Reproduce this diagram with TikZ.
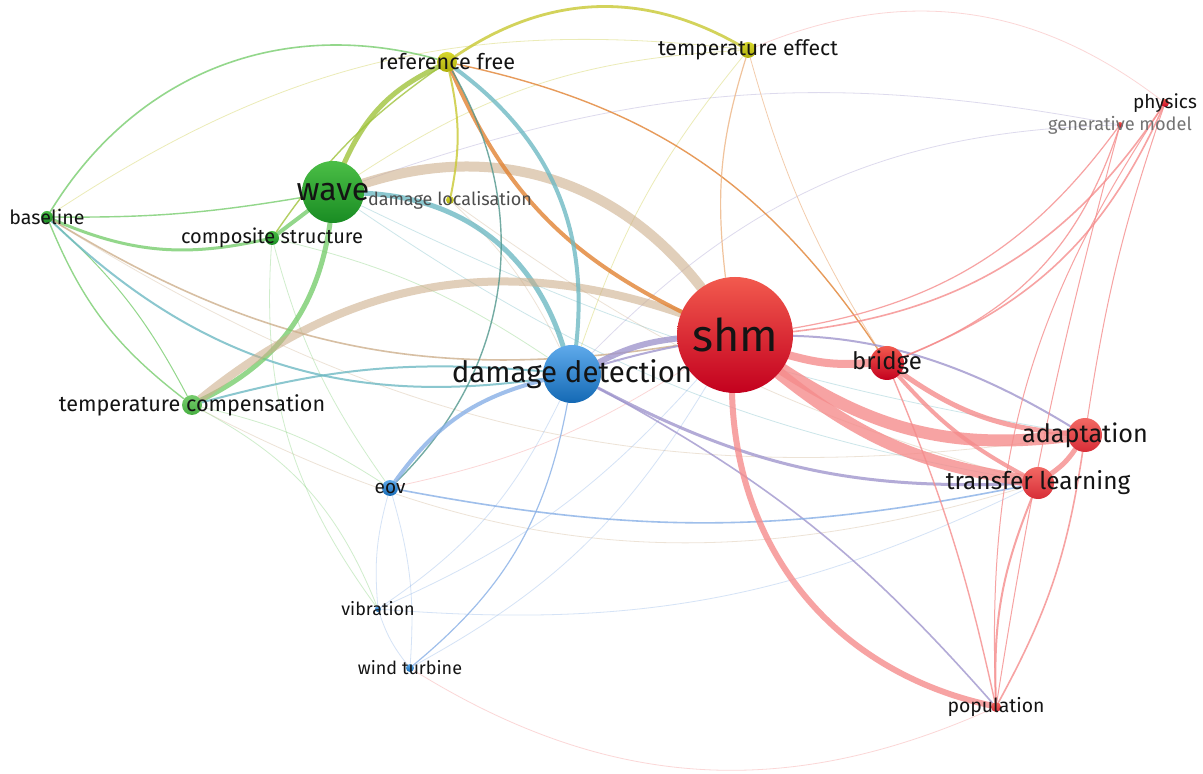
\documentclass[tikz,border=0pt]{standalone}
\usepackage{fontspec}
\setmainfont{Fira Sans}
\usetikzlibrary{backgrounds}

% keyword colours (top and bottom of each ball)
\definecolor{redtop}{RGB}{242,90,78}
\definecolor{redbot}{RGB}{195,0,30}
\definecolor{pinktop}{RGB}{242,105,100}
\definecolor{pinkbot}{RGB}{215,45,55}
\definecolor{bluetop}{RGB}{95,170,235}
\definecolor{bluebot}{RGB}{20,105,180}
\definecolor{greentop}{RGB}{75,190,70}
\definecolor{greenbot}{RGB}{25,140,35}
\definecolor{lgreentop}{RGB}{120,205,110}
\definecolor{lgreenbot}{RGB}{70,175,65}
\definecolor{yellowtop}{RGB}{215,215,45}
\definecolor{yellowbot}{RGB}{175,175,10}
% link colours
\definecolor{lnred}{RGB}{245,140,140}
\definecolor{lngreen}{RGB}{120,205,110}
\definecolor{lnteal}{RGB}{110,185,195}
\definecolor{lnblue}{RGB}{135,175,230}
\definecolor{lnpurple}{RGB}{160,150,205}
\definecolor{lntan}{RGB}{205,175,140}
\definecolor{lnorange}{RGB}{225,130,50}
\definecolor{lnyellow}{RGB}{200,200,50}
\definecolor{lnolive}{RGB}{160,195,60}
\definecolor{lndteal}{RGB}{80,150,140}
\definecolor{txtdark}{RGB}{20,20,20}

\newcommand{\kwfont}[1]{\fontsize{#1pt}{#1pt}\selectfont}

\begin{document}
\begin{tikzpicture}[x=0.5pt,y=0.5pt,
    kw/.style n args={3}{circle, inner sep=0pt, minimum size=#1,
        top color=#2, bottom color=#3, draw=none},
    lbl/.style={text=txtdark, inner sep=0pt, font=\kwfont{#1}},
    lnk/.style={draw=#1, line cap=round, opacity=.8},
    faint/.style={draw=#1, line width=.4pt, opacity=.35}]

    \useasboundingbox (0,0) rectangle (1203,-774);

    % Draw the keywords
    \node[kw={58pt}{redtop}{redbot}, label={[lbl=22.5]center:shm}] (shm) at (735,-335) {};
    \node[kw={29pt}{bluetop}{bluebot}, label={[lbl=14.7]center:damage detection}] (dmgdet) at (572,-374) {};
    \node[kw={31pt}{greentop}{greenbot}, label={[lbl=16]center:wave}] (wave) at (333,-192) {};
    \node[kw={10pt}{yellowtop}{yellowbot}, label={[lbl=10.8]center:reference free}] (reffree) at (447,-62) {};
    \node[kw={8pt}{yellowtop}{yellowbot}, label={[lbl=10.6]center:temperature effect}] (teffect) at (748,-50) {};
    \node[kw={4pt}{redtop}{redbot}, label={[lbl=9.5]center:physics}] (physics) at (1165,-103) {};
    \node[kw={3pt}{redtop}{redbot}, label={[lbl=9.1, text=black!55]center:generative model}] (genmodel) at (1120,-125) {};
    \node[kw={6pt}{greentop}{greenbot}, label={[lbl=9.8]center:baseline}] (baseline) at (47,-217) {};
    \node[kw={7pt}{greentop}{greenbot}, label={[lbl=10]center:composite structure}] (compstruct) at (272,-238) {};
    \node[kw={4pt}{yellowtop}{yellowbot}, label={[lbl=9, text=black!70]center:damage localisation}] (dmgloc) at (450,-200) {};
    \node[kw={10pt}{lgreentop}{lgreenbot}, label={[lbl=10.8]center:temperature compensation}] (tcomp) at (192,-405) {};
    \node[kw={8pt}{bluetop}{bluebot}, label={[lbl=9.5]center:eov}] (eov) at (390,-488) {};
    \node[kw={3pt}{bluetop}{bluebot}, label={[lbl=9]center:vibration}] (vibration) at (378,-609) {};
    \node[kw={4pt}{bluetop}{bluebot}, label={[lbl=9]center:wind turbine}] (windturb) at (410,-668) {};
    \node[kw={17pt}{redtop}{redbot}, label={[lbl=12]center:bridge}] (bridge) at (887,-363) {};
    \node[kw={17pt}{pinktop}{pinkbot}, label={[lbl=12.6]center:adaptation}] (adapt) at (1085,-435) {};
    \node[kw={16pt}{pinktop}{pinkbot}, label={[lbl=12.2]center:transfer learning}] (translearn) at (1038,-483) {};
    \node[kw={5pt}{pinktop}{pinkbot}, label={[lbl=9.7]center:population}] (population) at (996,-707) {};

    \begin{scope}[on background layer]
        \fill[white] (0,0) rectangle (1203,-774);

        % Draw the faint links behind everything
        \draw[faint=lnred] (teffect) to[bend left=30] (physics);
        \draw[faint=lnpurple] (dmgdet) to[bend left=22] (genmodel);
        \draw[faint=lnpurple] (wave) to[bend left=15] (genmodel);
        \draw[faint=lnyellow] (teffect) to[bend right=10] (dmgdet);
        \draw[faint=lnyellow] (teffect) to[bend right=15] (wave);
        \draw[faint=lnyellow] (teffect) to[bend right=20] (baseline);
        \draw[faint=lnteal] (wave) to[bend right=12] (translearn);
        \draw[faint=lnteal] (wave) to[bend right=8] (adapt);
        \draw[faint=lntan] (tcomp) to[bend right=22] (translearn);
        \draw[faint=lntan] (baseline) to[bend right=20] (adapt);
        \draw[faint=lngreen] (tcomp) to[bend left=20] (vibration);
        \draw[faint=lngreen] (tcomp) to[bend left=10] (eov);
        \draw[faint=lngreen] (compstruct) to[bend right=10] (eov);
        \draw[faint=lngreen] (compstruct) to[bend left=10] (dmgdet);
        \draw[faint=lngreen] (compstruct) to[bend right=20] (vibration);
        \draw[faint=lnblue] (eov) to[bend right=10] (vibration);
        \draw[faint=lnblue] (eov) to[bend left=10] (windturb);
        \draw[faint=lnblue] (vibration) to[bend right=10] (windturb);
        \draw[faint=lnblue] (vibration) to[bend right=15] (dmgdet);
        \draw[faint=lnblue] (vibration) to[bend right=12] (shm);
        \draw[faint=lnblue] (vibration) to[bend right=15] (translearn);
        \draw[faint=lnblue] (windturb) to[bend right=15] (shm);
        \draw[faint=lnred] (windturb) to[bend right=28] (population);
        \draw[faint=lnred] (shm) to[bend left=10] (eov);
        \draw[faint=lntan] (dmgloc) to[bend right=10] (translearn);
        \draw[faint=lntan] (dmgloc) to[bend left=10] (dmgdet);

        % Draw the links of the green cluster
        \draw[lnk=lngreen, line width=.8pt] (baseline) to[bend left=37] (reffree);
        \draw[lnk=lngreen, line width=1.5pt] (baseline) to[bend right=18] (compstruct);
        \draw[lnk=lngreen, line width=.7pt] (baseline) to[bend right=5] (wave);
        \draw[lnk=lngreen, line width=.7pt] (baseline) to[bend right=15] (tcomp);
        \draw[lnk=lngreen, line width=.5pt] (baseline) to[bend left=10] (tcomp);
        \draw[lnk=lnteal, line width=1pt] (baseline) to[bend right=26] (dmgdet);
        \draw[lnk=lntan, line width=.8pt] (baseline) to[bend right=20] (shm);
        \draw[lnk=lngreen, line width=2pt] (wave) to (compstruct);
        \draw[lnk=lngreen, line width=2.5pt] (wave) to[bend left=28] (tcomp);
        \draw[lnk=lnteal, line width=2.5pt] (wave) to[bend left=35] (dmgdet);
        \draw[lnk=lntan, line width=5pt, opacity=.6] (wave) to[bend left=35] (shm);
        \draw[lnk=lntan, line width=4pt, opacity=.6] (tcomp) to[bend left=29] (shm);
        \draw[lnk=lnteal, line width=1pt] (tcomp) to[bend left=10] (dmgdet);

        % Draw the links of the yellow cluster
        \draw[lnk=lnolive, line width=2.5pt] (reffree) to[bend right=20] (wave);
        \draw[lnk=lnolive, line width=.7pt] (reffree) to[bend right=10] (compstruct);
        \draw[lnk=lnyellow, line width=1.4pt] (reffree) to[bend left=32] (teffect);
        \draw[lnk=lnyellow, line width=1pt] (reffree) to[bend left=12] (dmgloc);
        \draw[lnk=lnorange, line width=2pt] (reffree) to[bend right=20] (shm);
        \draw[lnk=lnorange, line width=.7pt] (reffree) to[bend left=22] (bridge);
        \draw[lnk=lnteal, line width=2pt] (reffree) to[bend left=30] (dmgdet);
        \draw[lnk=lndteal, line width=.7pt] (reffree) to[bend left=38] (eov);
        \draw[lnk=lnorange!60!white, line width=.6pt] (teffect) to[bend right=12] (shm);
        \draw[lnk=lnorange!50!white, line width=.4pt] (teffect) to[bend right=8] (bridge);

        % Draw the links of the blue cluster
        \draw[lnk=lnblue, line width=2pt] (dmgdet) to[bend right=20] (eov);
        \draw[lnk=lnpurple, line width=3pt] (dmgdet) to[bend left=10] (shm);
        \draw[lnk=lnpurple, line width=1pt] (dmgdet) to[bend left=24] (adapt);
        \draw[lnk=lnpurple, line width=1.5pt] (dmgdet) to[bend right=15] (translearn);
        \draw[lnk=lnpurple, line width=.8pt] (dmgdet) to[bend left=10] (population);
        \draw[lnk=lnblue, line width=.8pt] (eov) to[bend right=11] (translearn);
        \draw[lnk=lnblue, line width=.6pt] (windturb) to[bend right=20] (dmgdet);

        % Draw the links of the red cluster
        \draw[lnk=lnred, line width=6pt] (shm) to[bend right=20] (adapt);
        \draw[lnk=lnred, line width=6pt] (shm) to[bend right=15] (translearn);
        \draw[lnk=lnred, line width=3pt] (shm) to[bend right=38] (population);
        \draw[lnk=lnred, line width=4pt] (shm) to[bend right=10] (bridge);
        \draw[lnk=lnred, line width=2.5pt] (bridge) to[bend right=15] (adapt);
        \draw[lnk=lnred, line width=2pt] (bridge) to[bend right=10] (translearn);
        \draw[lnk=lnred, line width=.7pt] (bridge) to[bend left=5] (population);
        \draw[lnk=lnred, line width=2.5pt] (adapt) to[bend left=10] (translearn);
        \draw[lnk=lnred, line width=1pt] (translearn) to[bend right=12] (population);
        \draw[lnk=lnred, line width=.8pt] (adapt) to[bend left=10] (population);
        \draw[lnk=lnred, line width=.8pt] (shm) to[bend right=25] (physics);
        \draw[lnk=lnred, line width=.6pt] (shm) to[bend right=22] (genmodel);
        \draw[lnk=lnred, line width=.8pt] (bridge) to[bend right=22] (physics);
        \draw[lnk=lnred, line width=.6pt] (bridge) to[bend right=25] (genmodel);
        \draw[lnk=lnred, line width=.5pt] (adapt) to[bend left=5] (physics);
        \draw[lnk=lnred, line width=.5pt] (physics) to[bend right=18] (population);
        \draw[lnk=lnred, line width=.5pt] (genmodel) to[bend right=3] (population);
    \end{scope}
\end{tikzpicture}
\end{document}
